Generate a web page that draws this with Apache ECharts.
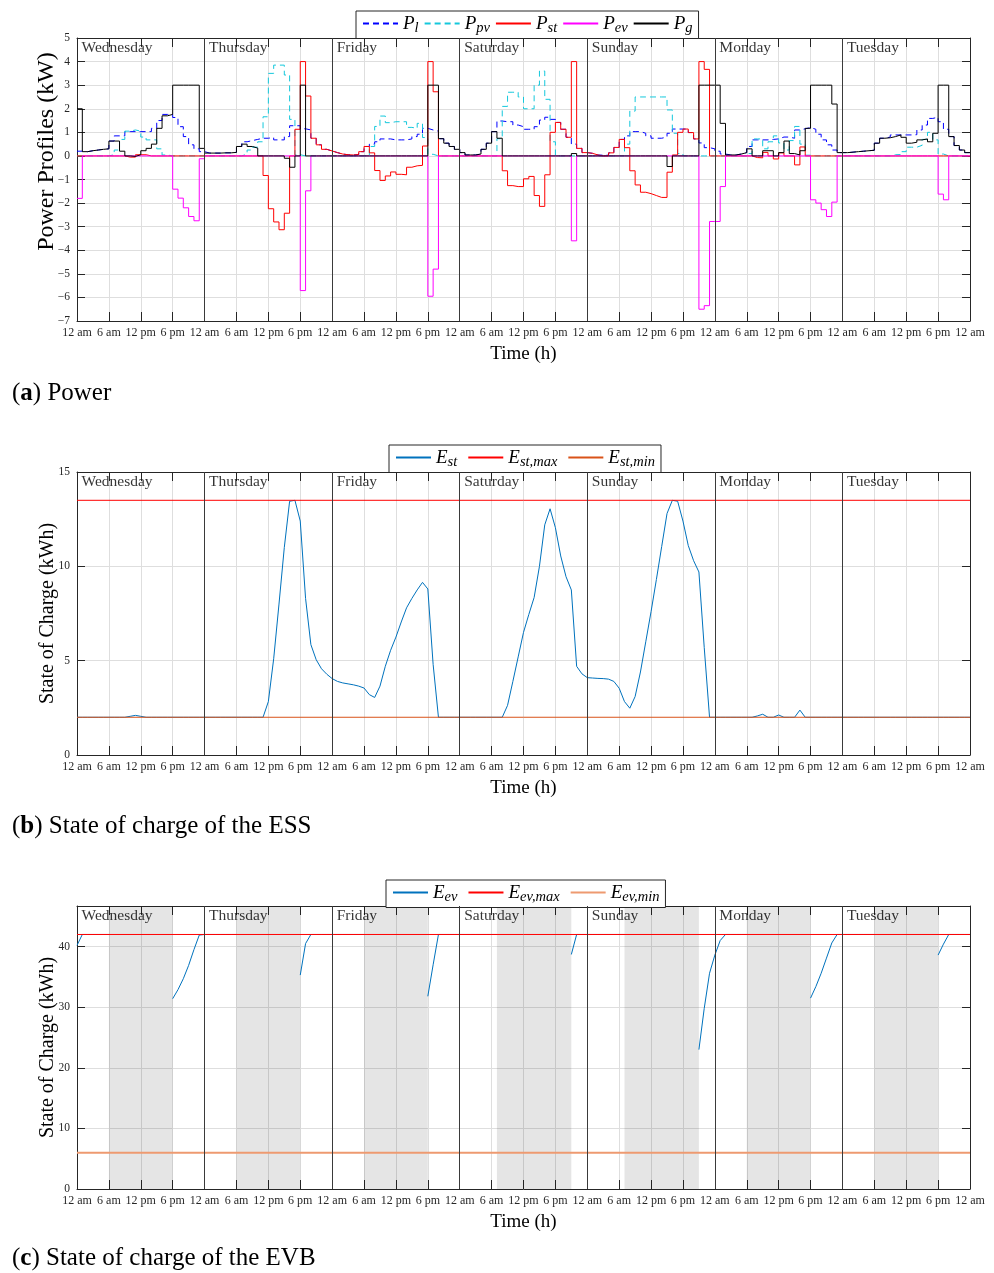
<!DOCTYPE html>
<html><head><meta charset="utf-8">
<script src="https://cdn.jsdelivr.net/npm/echarts@6/dist/echarts.min.js"></script>
<style>html,body{margin:0;padding:0;background:#fff}#c{width:994px;height:1273px}</style>
</head><body><div id="c"></div>
<script>
// ---------- data ----------
const dayNames = ['Wednesday','Thursday','Friday','Saturday','Sunday','Monday','Tuesday'];
const tickLabels = ['12 am','6 am','12 pm','6 pm'];
const dayBounds = [24,48,72,96,120,144];

// hourly values (168 h, Wednesday 12 am .. Tuesday 11 pm)
const P_l = [
 0.2,0.18,0.22,0.25,0.28,0.3,0.63,0.85,0.85,1.03,1.03,1.03,1.03,1.03,1.17,1.5,1.76,1.76,1.63,1.24,0.82,0.47,0.3,0.18,
 0.12,0.12,0.12,0.13,0.13,0.15,0.4,0.6,0.65,0.7,0.75,0.75,0.78,0.68,0.68,0.82,1.28,1.28,1.15,1.1,0.75,0.47,0.28,0.21,
 0.14,0.08,0.05,0.04,0.06,0.18,0.4,0.5,0.6,0.72,0.72,0.68,0.68,0.68,0.72,0.82,0.92,1.17,1.1,1.05,0.73,0.54,0.4,0.28,
 0.14,0.04,0.04,0.08,0.28,0.54,1.03,1.48,1.45,1.45,1.31,1.24,1.13,1.13,1.24,1.52,1.64,1.55,1.42,1.13,0.79,0.5,0.32,0.14,
 0.11,0.04,0.03,0.03,0.13,0.36,0.7,0.85,1.03,1.03,0.96,0.85,0.75,0.75,0.8,0.96,1.14,1.14,1.14,0.99,0.72,0.55,0.35,0.3,
 0.2,0.08,0.04,0.04,0.08,0.14,0.4,0.68,0.68,0.68,0.7,0.72,0.8,0.8,0.75,1.1,1.15,1.2,1.13,0.92,0.68,0.47,0.25,0.14,
 0.14,0.16,0.18,0.2,0.22,0.24,0.54,0.75,0.8,0.89,0.89,0.89,0.89,0.9,1.1,1.31,1.59,1.64,1.45,1.13,0.82,0.44,0.25,0.14
];
const P_pv = [
 0,0,0,0,0,0,0.05,0.25,0.7,1.05,1.1,1.05,0.8,0.68,0.68,0.3,0.04,0,0,0,0,0,0,0,
 0,0,0,0,0,0,0,0.08,0.25,0.37,0.6,1.66,3.5,3.85,3.85,3.43,1.55,0.05,0,0,0,0,0,0,
 0,0,0,0,0,0,0,0.4,1.25,1.69,1.41,1.45,1.45,1.45,1.21,1.17,1.38,0.78,0.07,0,0,0,0,0,
 0,0,0,0,0,0,0,0.73,2.1,2.7,2.7,2.5,2.0,2.0,3.0,3.6,2.4,0.6,0,0,0,0,0,0,
 0,0,0,0,0,0,0,0.5,1.9,2.5,2.5,2.5,2.5,2.5,2.5,1.95,0.96,0.1,0,0,0,0,0,0,
 0,0,0,0,0,0,0.1,0.72,0.72,0.3,0.6,0.85,0.55,0.25,0.65,1.25,0.5,0.03,0,0,0,0,0,0,
 0,0,0,0,0,0,0,0,0,0.05,0.06,0.18,0.37,0.37,0.45,0.7,1.0,0.68,0.08,0,0,0,0,0
];
const P_st = [
 0,0,0,0,0,0,0,0,0,-0.05,-0.05,0.05,0.05,0,0,0,0,0,0,0,0,0,0,0,
 0,0,0,0,0,0,0,0,0,0,0,-0.83,-2.24,-2.8,-3.13,-2.43,0,1.13,4.0,2.54,0.75,0.47,0.28,0.21,
 0.14,0.08,0.05,0.04,0.06,0.18,0.4,0.13,-0.62,-1.04,-0.85,-0.68,-0.78,-0.8,-0.48,-0.42,-0.4,0.42,4.0,2.72,0,0,0,0,
 0,0,0,0,0,0,0,0,-0.63,-1.26,-1.3,-1.3,-0.97,-0.87,-1.68,-2.14,-0.8,1.0,1.42,1.13,0.79,4.0,0.32,0.14,
 0.11,0.04,0,0,0.13,0.36,0.7,0.35,-0.63,-1.23,-1.54,-1.6,-1.68,-1.76,-1.76,-0.69,0.04,1.0,1.14,0.99,0.72,4.0,3.67,0,
 0,0,0,0,0,0,0,-0.07,-0.08,0.15,0,-0.13,0.13,0,0,-0.38,0.38,0,0,0,0,0,0,0,
 0,0,0,0,0,0,0,0,0,0,0,0,0,0,0,0,0,0,0,0,0,0,0,0
];
const P_ev = [
 -1.8,0,0,0,0,0,0,0,0,0,0,0,0,0,0,0,0,0,-1.41,-1.79,-2.2,-2.57,-2.75,-0.12,
 0,0,0,0,0,0,0,0,0,0,0,0,0,0,0,0,0,0,-5.71,-1.48,0,0,0,0,
 0,0,0,0,0,0,0,0,0,0,0,0,0,0,0,0,0,0,-5.95,-4.8,0,0,0,0,
 0,0,0,0,0,0,0,0,0,0,0,0,0,0,0,0,0,0,0,0,0,-3.6,0,0,
 0,0,0,0,0,0,0,0,0,0,0,0,0,0,0,0,0,0,0,0,0,-6.5,-6.35,-2.78,
 -2.78,-1.3,0,0,0,0,0,0,0,0,0,0,0,0,0,0,0,0,-1.86,-2.0,-2.28,-2.57,-1.96,0,
 0,0,0,0,0,0,0,0,0,0,0,0,0,0,0,0,0,0,-1.62,-1.86,0,0,0,0
];
const P_g = [
 2.0,0.18,0.22,0.25,0.28,0.3,0.63,0.63,0.2,0,-0.02,0.05,0.22,0.32,0.5,1.17,1.7,1.76,3.0,3.0,3.0,3.0,3.0,0.32,
 0.12,0.12,0.12,0.13,0.13,0.15,0.4,0.5,0.4,0.33,0,0,0,0,0,-0.1,-0.48,0,3.0,0,0,0,0,0,
 0,0,0,0,0,0,0,0,0,0,0,0,0,0,0,0,0,0,3.0,3.0,0.73,0.54,0.4,0.28,
 0.14,0.04,0.04,0.08,0.28,0.54,1.03,0.75,0,0,0,0,0,0,0,0,0,0,0,0,0,0.1,0,0,
 0,0,0,0,0,0,0,0,0,0,0,0,0,0,0,-0.45,0,0,0,0,0,3.0,3.0,3.0,
 3.0,1.38,0.04,0.04,0.08,0.14,0.3,0,0,0.22,0.22,0,0.14,0.63,0.1,0.04,0.22,1.17,3.0,3.0,3.0,3.0,2.2,0.14,
 0.14,0.16,0.18,0.2,0.22,0.24,0.54,0.75,0.77,0.82,0.89,0.79,0.54,0.58,0.68,0.72,0.6,0.96,3.0,3.0,0.82,0.44,0.25,0.14
];
// state of charge (169 points, hour 0 .. 168)
const E_st = [
 2,2,2,2,2,2,2,2,2,2,2.05,2.1,2.05,2,2,2,2,2,2,2,2,2,2,2,
 2,2,2,2,2,2,2,2,2,2,2,2,2.83,5.1,8.0,11.0,13.45,13.5,12.4,8.3,5.85,5.05,4.57,4.28,
 4.05,3.9,3.82,3.77,3.72,3.65,3.55,3.2,3.05,3.65,4.7,5.55,6.25,7.05,7.8,8.3,8.75,9.15,8.8,4.8,2,2,2,2,
 2,2,2,2,2,2,2,2,2,2.63,3.9,5.2,6.5,7.45,8.35,10.0,12.2,13.05,12.05,10.55,9.45,8.75,4.7,4.3,
 4.1,4.08,4.06,4.05,4.02,3.9,3.54,2.83,2.48,3.1,4.4,6.0,7.6,9.3,11.05,12.8,13.5,13.45,12.4,11.1,10.3,9.7,5.7,2.0,
 2,2,2,2,2,2,2,2,2.07,2.16,2,2,2.12,2,2,2,2.38,2,2,2,2,2,2,2,
 2,2,2,2,2,2,2,2,2,2,2,2,2,2,2,2,2,2,2,2,2,2,2,2,
 2
];
const E_st_max = 13.5, E_st_min = 2;
const E_ev = [
 40.2,42,42,42,42,42,42,null,null,null,null,null,null,null,null,null,null,null,31.4,32.9,34.7,36.9,39.5,41.9,
 42,42,42,42,42,42,42,null,null,null,null,null,null,null,null,null,null,null,35.3,40.5,42,42,42,42,
 42,42,42,42,42,42,42,null,null,null,null,null,null,null,null,null,null,null,31.8,37.0,42,42,42,42,
 42,42,42,42,42,42,42,42,null,null,null,null,null,null,null,null,null,null,null,null,null,38.7,42,42,
 42,42,42,42,42,42,42,42,null,null,null,null,null,null,null,null,null,null,null,null,null,23.0,29.8,35.6,
 38.6,41.0,42,42,42,42,42,null,null,null,null,null,null,null,null,null,null,null,31.5,33.4,35.6,38.1,40.6,42,
 42,42,42,42,42,42,42,null,null,null,null,null,null,null,null,null,null,null,38.6,40.4,42,42,42,42,
 42
];
const E_ev_max = 42, E_ev_min = 6;
const awayStart = [6,30,54,79,103,126,150];
const awayEnd   = [18,42,66,93,117,138,162];

// ---------- chart ----------
const FF = 'Liberation Serif';
const AX = '#262626';
const stepData = a => a.map((v,i)=>[i,v]).concat([[a.length, a[a.length-1]]]);
const lineData = a => a.map((v,i)=>[i,v]);
const flat = v => [[0,v],[168,v]];

const panels = [
  {top:38,  min:-7, max:5,    interval:1,  yname:'Power Profiles (kW)',    ysize:24, ypad:[0,0,0,56], ygap:18},
  {top:472, min:0,  max:15,   interval:5,  yname:'State of Charge (kWh)', ysize:20, ypad:0, ygap:19},
  {top:906, min:0,  max:46.7, interval:10, yname:'State of Charge (kWh)', ysize:20, ypad:0, ygap:19}
];
const grid=[], xAxis=[], yAxis=[];
panels.forEach((p,i)=>{
  grid.push({left:77, right:24, top:p.top, height:283, containLabel:false});
  const tick = {show:true, inside:true, length:9, lineStyle:{color:AX, width:1}};
  const line = {show:true, onZero:false, lineStyle:{color:AX, width:1}};
  xAxis.push({type:'value', gridIndex:i, min:0, max:168, interval:6, position:'bottom',
    axisLine:line, axisTick:tick,
    axisLabel:{show:true, margin:6, fontFamily:FF, fontSize:12, color:AX,
      formatter:v=>tickLabels[(v/6)%4]},
    splitLine:{show:true, lineStyle:{color:'#dedede', width:1}},
    name:'Time (h)', nameLocation:'middle', nameGap:24, nameMoveOverlap:false,
    nameTextStyle:{fontFamily:FF, fontSize:19, color:'#000'}});
  xAxis.push({type:'value', gridIndex:i, min:0, max:168, interval:6, position:'top',
    axisLine:line, axisTick:tick, axisLabel:{show:false}, splitLine:{show:false}});
  yAxis.push({type:'value', gridIndex:i, min:p.min, max:p.max, interval:p.interval, position:'left',
    axisLine:line, axisTick:{show:true, inside:true, length:8, lineStyle:{color:AX}},
    axisLabel:{show:true, margin:7, fontFamily:FF, fontSize:11.5, color:AX, showMaxLabel: i!==2,
      formatter:v=>(Math.abs(v - Math.round(v))>1e-9 ? '' : String(v).replace('-','\u2212'))},
    splitLine:{show:true, lineStyle:{color:'#dedede', width:1}},
    name:p.yname, nameLocation:'middle', nameGap:p.ygap, nameMoveOverlap:false,
    nameTextStyle:{fontFamily:FF, fontSize:p.ysize, color:'#000', padding:p.ypad}});
  yAxis.push({type:'value', gridIndex:i, min:p.min, max:p.max, interval:p.interval, position:'right',
    axisLine:line, axisTick:{show:true, inside:true, length:8, lineStyle:{color:AX}},
    axisLabel:{show:false}, splitLine:{show:false}});
});

function daySeries(i){
  const s = {type:'scatter', name:'days'+i, xAxisIndex:2*i, yAxisIndex:2*i, silent:true,
    symbol:'rect', symbolSize:1, itemStyle:{color:'rgba(0,0,0,0)'},
    data: dayNames.map((n,k)=>({value:[k*24, panels[i].max], name:n})),
    label:{show:true, formatter:p=>p.name, position:[5,2], align:'left', verticalAlign:'top',
      fontFamily:FF, fontSize:15.5, color:'#000'},
    markLine:{silent:true, symbol:['none','none'], label:{show:false}, animation:false,
      lineStyle:{color:'#3a3a3a', width:1, type:'solid'}, emphasis:{disabled:true},
      data: dayBounds.map(x=>({xAxis:x}))}
  };
  if(i===2){
    s.markArea = {silent:true, itemStyle:{color:'rgba(0,0,0,0.1)'}, emphasis:{disabled:true},
      data: awayStart.map((a,k)=>[{xAxis:a},{xAxis:awayEnd[k]}])};
  }
  return s;
}
const ser = (name, data, gi, color, opts={}) => Object.assign({
  type:'line', name, data, xAxisIndex:2*gi, yAxisIndex:2*gi, symbol:'none', showSymbol:false,
  silent:true, lineStyle:{color, width:1}, itemStyle:{color}, z:3
}, opts);

const series = [
  daySeries(0),
  ser('P_l',  stepData(P_l),  0, '#0000ff', {step:'end', lineStyle:{color:'#0000ff', width:1, type:[6,4]}}),
  ser('P_pv', stepData(P_pv), 0, '#14c8dc', {step:'end', lineStyle:{color:'#14c8dc', width:1, type:[6,4]}}),
  ser('P_st', stepData(P_st), 0, '#ff0000', {step:'end'}),
  ser('P_ev', stepData(P_ev), 0, '#ff00ff', {step:'end'}),
  ser('P_g',  stepData(P_g),  0, '#000000', {step:'end'}),
  daySeries(1),
  ser('E_st', lineData(E_st), 1, '#0072bd'),
  ser('E_st,max', flat(E_st_max), 1, '#ff0000'),
  ser('E_st,min', flat(E_st_min), 1, '#d95319'),
  daySeries(2),
  ser('E_ev', lineData(E_ev), 2, '#0072bd', {connectNulls:false}),
  ser('E_ev,max', flat(E_ev_max), 2, '#ff0000'),
  ser('E_ev,min', flat(E_ev_min), 2, '#ee9a70', {lineStyle:{color:'#ee9a70', width:2}})
];

const fmt = name => { const k = name.indexOf('_'); return '{b|'+name.slice(0,k)+'}{s|'+name.slice(k+1)+'}'; };
const legendBase = (top, left, data, gap) => ({
  top, left, data, orient:'horizontal', backgroundColor:'#fff', borderColor:AX, borderWidth:1,
  padding:[3,6,3,6], itemWidth:35, itemHeight:14, itemGap:gap, selectedMode:false, formatter:fmt,
  itemStyle:{opacity:0, borderWidth:0},
  textStyle:{rich:{
    b:{fontFamily:FF, fontStyle:'italic', fontSize:19, color:'#000'},
    s:{fontFamily:FF, fontStyle:'italic', fontSize:14.5, color:'#000', padding:[9,0,0,0]}
  }}
});
const legend = [
  legendBase(11, 356, ['P_l','P_pv','P_st','P_ev','P_g'], 5),
  legendBase(445, 389, ['E_st','E_st,max','E_st,min'], 10),
  legendBase(880, 386, ['E_ev','E_ev,max','E_ev,min'], 10)
];

const cap = (top, letter, rest) => ({type:'text', left:12, top,
  style:{text:'({b|'+letter+'}) '+rest, font:'25px "Liberation Serif"', fill:'#000',
    rich:{b:{fontWeight:'bold', fontSize:25, fontFamily:FF, fill:'#000'}}}});

const chart = echarts.init(document.getElementById('c'), null, {renderer:'canvas'});
chart.setOption({
  animation:false, backgroundColor:'#fff',
  textStyle:{fontFamily:FF},
  grid, xAxis, yAxis, legend, series,
  graphic:[
    cap(381, 'a', 'Power'),
    cap(814, 'b', 'State of charge of the ESS'),
    cap(1246, 'c', 'State of charge of the EVB')
  ]
});
</script></body></html>
